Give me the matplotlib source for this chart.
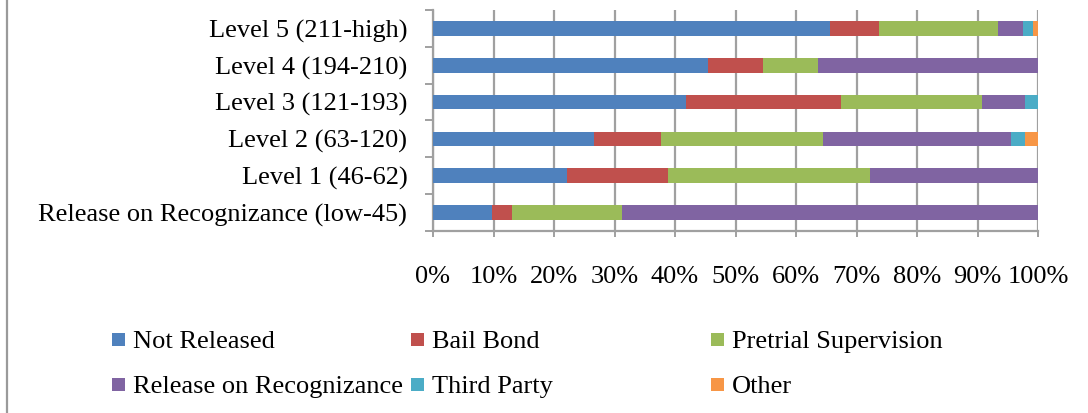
import matplotlib
matplotlib.use("Agg")
import matplotlib.pyplot as plt
from matplotlib.patches import Rectangle
from matplotlib.lines import Line2D
import numpy as np

plt.rcParams['font.family'] = ['Liberation Serif', 'DejaVu Serif']

# Risk levels (bottom to top)
categories = [
    "Release on Recognizance (low-45)",
    "Level 1 (46-62)",
    "Level 2 (63-120)",
    "Level 3 (121-193)",
    "Level 4 (194-210)",
    "Level 5 (211-high)",
]

# Share of each release outcome per level (percent)
not_released = [9.8, 22.2, 26.6, 41.9, 45.4, 65.6]
bail_bond = [3.3, 16.7, 11.1, 25.6, 9.2, 8.1]
pretrial_supervision = [18.1, 33.4, 26.8, 23.3, 9.1, 19.7]
release_on_recognizance = [68.8, 27.7, 31.1, 7.0, 36.3, 4.2]
third_party = [0.0, 0.0, 2.3, 2.2, 0.0, 1.5]
other = [0.0, 0.0, 2.1, 0.0, 0.0, 0.9]

series_names = ["Not Released", "Bail Bond", "Pretrial Supervision",
                "Release on Recognizance", "Third Party", "Other"]
series_values = [not_released, bail_bond, pretrial_supervision,
                 release_on_recognizance, third_party, other]
colors = ["#4F81BD", "#C0504D", "#9BBB59", "#8064A2", "#4BACC6", "#F79646"]
x_ticks = [0, 10, 20, 30, 40, 50, 60, 70, 80, 90, 100]

W, H = 1088, 413
FS = 19
fig = plt.figure(figsize=(W / 100, H / 100), dpi=100)
ax = fig.add_axes([433 / W, 1 - 231 / H, (1038 - 433) / W, (231 - 10) / H])

grid_col = "#a0a0a0"
y = np.arange(len(categories))
left = np.zeros(len(categories))
for name, vals, col in zip(series_names, series_values, colors):
    vals = np.array(vals, dtype=float)
    ax.barh(y, vals, left=left, height=0.4, color=col, edgecolor="none", zorder=3)
    left += vals

ax.set_xlim(0, 100)
ax.set_ylim(-0.5, len(categories) - 0.5)

ax.set_xticks(x_ticks)
ax.set_xticklabels([f"{t}%" for t in x_ticks])
ax.xaxis.grid(True, color=grid_col, linewidth=1.6, zorder=0)
ax.tick_params(axis="x", direction="out", length=4.5, width=1.4, color=grid_col,
               pad=21, labelsize=FS)

ax.set_yticks(y)
ax.set_yticklabels(categories)
ax.set_yticks(np.arange(-0.5, len(categories)), minor=True)
ax.tick_params(axis="y", which="major", length=0, pad=18.5, labelsize=FS)
ax.tick_params(axis="y", which="minor", direction="out", length=6, width=1.4,
               color=grid_col)

for s in ["top", "right"]:
    ax.spines[s].set_visible(False)
for s in ["left", "bottom"]:
    ax.spines[s].set_color(grid_col)
    ax.spines[s].set_linewidth(1.6)

# Legend laid out in a fixed 3-column grid
col_x = [112, 411, 711]
row_y = [340, 385]
sq = 13
for i, (name, col) in enumerate(zip(series_names, colors)):
    r, c = divmod(i, 3)
    x0 = col_x[c]
    yc = row_y[r]
    fig.patches.append(Rectangle((x0 / W, 1 - (yc + sq / 2 - 1) / H), sq / W, sq / H,
                                 transform=fig.transFigure, facecolor=col,
                                 edgecolor="none"))
    fig.text((x0 + 21) / W, 1 - (yc + 2) / H, name, fontsize=FS,
             ha="left", va="center")

# Frame line on the left edge
fig.lines.append(Line2D([7 / W, 7 / W], [0, 1], transform=fig.transFigure,
                        color="#9a9a9a", linewidth=1.6))

fig.savefig("out.png", dpi=100)
